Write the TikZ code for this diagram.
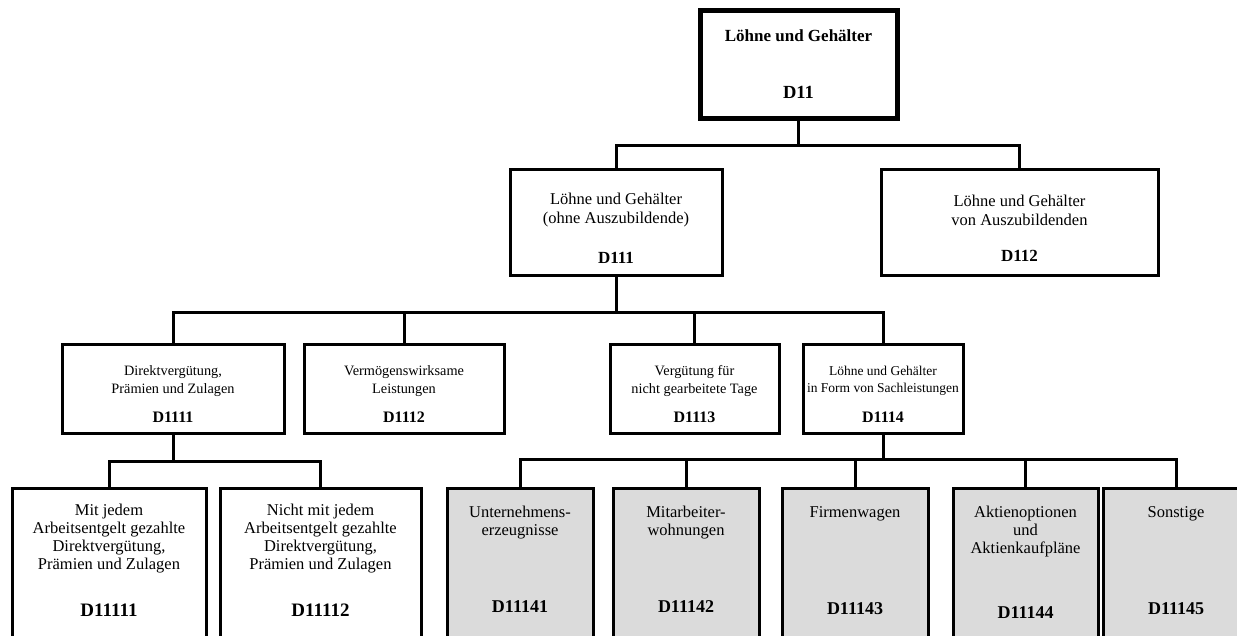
\documentclass[tikz,border=0pt]{standalone}
\usepackage{fontspec}
\setmainfont{Liberation Serif}
\begin{document}
\begin{tikzpicture}[x=1pt,y=-1pt,
  box/.style={draw, line width=3pt, inner sep=0pt},
  topbox/.style={draw, line width=5pt, inner sep=0pt},
  shaded/.style={box, fill=black!14},
  txt/.style={font=\fontsize{16.5}{18}\selectfont, align=center, inner sep=0pt},
  txtm/.style={font=\fontsize{14.3}{17.5}\selectfont, align=center, inner sep=0pt},
  code/.style={font=\fontsize{#1}{18}\selectfont\bfseries, inner sep=0pt},
  code/.default=18,
  conn/.style={line width=3pt}]
\useasboundingbox (0,0) rectangle (1237,635);
\clip (0,0) rectangle (1237,635);

% level 1
\node[topbox, minimum width=197pt, minimum height=108pt] (d11) at (798.5,64) {};
\node[txt, font=\fontsize{17}{18}\selectfont\bfseries] (t11) at (798.5,36) {Löhne und Gehälter};
\node[code=18.5] (c11) at (798.5,92) {D11};

% level 2
\node[box, minimum width=212pt, minimum height=106pt] (d111) at (616,222) {};
\node[txt, font=\fontsize{16.5}{19}\selectfont] (t111) at (616,210) {Löhne und Gehälter\\(ohne Auszubildende)};
\node[code=17] (c111) at (616,258) {D111};

\node[box, minimum width=277pt, minimum height=106pt] (d112) at (1019.5,222) {};
\node[txt, font=\fontsize{16.5}{19}\selectfont] (t112) at (1019.5,210) {Löhne und Gehälter\\von Auszubildenden};
\node[code=17] (c112) at (1019.5,256) {D112};

% level 3
\node[box, minimum width=222pt, minimum height=89pt] (d1111) at (173,388.5) {};
\node[txtm] (t1111) at (173,381) {Direktvergütung,\\Prämien und Zulagen};
\node[code=16] (c1111) at (173,417) {D1111};

\node[box, minimum width=200pt, minimum height=89pt] (d1112) at (404,388.5) {};
\node[txtm] (t1112) at (404,381) {Vermögenswirksame\\Leistungen};
\node[code=16] (c1112) at (404,417) {D1112};

\node[box, minimum width=169pt, minimum height=89pt] (d1113) at (694.5,388.5) {};
\node[txtm] (t1113) at (694.5,381) {Vergütung für\\nicht gearbeitete Tage};
\node[code=16] (c1113) at (694.5,417) {D1113};

\node[box, minimum width=160pt, minimum height=89pt] (d1114) at (883,388.5) {};
\node[txtm, font=\fontsize{13.5}{17.5}\selectfont] (t1114) at (883,381) {Löhne und Gehälter\\in Form von Sachleistungen};
\node[code=16] (c1114) at (883,417) {D1114};

% level 4
\node[box, minimum width=194pt, minimum height=172pt] (d11111) at (109,574) {};
\node[txt] (t11111) at (109,539) {Mit jedem\\Arbeitsentgelt gezahlte\\Direktvergütung,\\Prämien und Zulagen};
\node[code=19] (c11111) at (109,610) {D11111};

\node[box, minimum width=201pt, minimum height=172pt] (d11112) at (320.5,574) {};
\node[txt] (t11112) at (320.5,539) {Nicht mit jedem\\Arbeitsentgelt gezahlte\\Direktvergütung,\\Prämien und Zulagen};
\node[code=19] (c11112) at (320.5,610) {D11112};

\node[shaded, minimum width=146pt, minimum height=172pt] (d11141) at (520,574) {};
\node[txt] (t11141) at (520,523) {Unternehmens-\\erzeugnisse};
\node[code] (c11141) at (520,607) {D11141};

\node[shaded, minimum width=146pt, minimum height=172pt] (d11142) at (686,574) {};
\node[txt] (t11142) at (686,523) {Mitarbeiter-\\wohnungen};
\node[code] (c11142) at (686,607) {D11142};

\node[shaded, minimum width=146pt, minimum height=172pt] (d11143) at (855,574) {};
\node[txt] (t11143) at (855,514) {Firmenwagen};
\node[code] (c11143) at (855,609) {D11143};

\node[shaded, minimum width=145pt, minimum height=172pt] (d11144) at (1025.5,574) {};
\node[txt] (t11144) at (1025.5,532) {Aktienoptionen\\und\\Aktienkaufpläne};
\node[code] (c11144) at (1025.5,613) {D11144};

\node[shaded, minimum width=146pt, minimum height=172pt] (d11145) at (1176,574) {};
\node[txt] (t11145) at (1176,514) {Sonstige};
\node[code] (c11145) at (1176,609) {D11145};

% connectors
\draw[conn] (d11.south) -- ++(0,25) -| (d111.north);
\draw[conn] (d11.south) -- ++(0,25) -| (d112.north);
\foreach \n in {d1111,d1112,d1113,d1114}
  \draw[conn] (d111.south) -- ++(0,36) -| (\n.north);
\foreach \n in {d11111,d11112}
  \draw[conn] (d1111.south) -- ++(0,27) -| (\n.north);
\foreach \n in {d11141,d11142,d11143,d11144,d11145}
  \draw[conn] (d1114.south) -- ++(0,25) -| (\n.north);
\end{tikzpicture}
\end{document}
